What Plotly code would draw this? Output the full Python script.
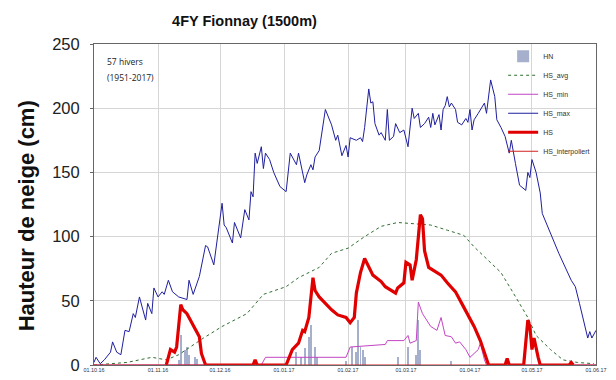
import pandas as pd
import plotly.graph_objects as go

START = "2016-10-01"

# HS_max (days since 01.10.16, cm)
max_days = [0, 1, 3, 5, 8, 9, 11, 13, 15, 17, 19, 20, 22, 25, 26, 28, 29, 31, 33, 34, 36, 38, 41, 45, 46, 48, 51,
            54, 55, 58, 62, 63, 64, 67, 68, 71, 73, 75, 76, 77, 78, 79, 81, 82, 83, 85, 87, 90, 93, 95, 98, 99,
            102, 103, 105, 106, 107, 109, 112, 115, 117, 118, 120, 122, 123, 124, 127, 129, 130, 131, 133, 134,
            135, 136, 138, 139, 141, 142, 143, 145, 146, 148, 150, 152, 154, 155, 157, 158, 160, 162, 163, 164,
            165, 167, 168, 169, 170, 171, 172, 173, 175, 176, 178, 180, 181, 182, 183, 184, 186, 187, 189, 190,
            192, 194, 195, 197, 199, 201, 202, 204, 206, 209, 210, 211, 212, 214, 216, 217, 221, 225, 231, 233,
            235, 239, 240, 241, 243]
max_vals = [2, 6, 1, 4, 10, 18, 10, 8, 27, 26, 40, 37, 53, 35, 48, 40, 60, 53, 57, 55, 66, 57, 53, 51, 66, 55, 69,
            93, 92, 78, 126, 109, 107, 95, 111, 99, 121, 113, 135, 131, 165, 157, 170, 153, 165, 160, 150, 139, 135,
            165, 156, 165, 142, 148, 156, 152, 162, 167, 199, 187, 175, 179, 163, 171, 162, 177, 175, 177, 174,
            185, 215, 204, 205, 188, 179, 181, 175, 199, 175, 178, 188, 181, 183, 170, 200, 192, 196, 185, 188,
            193, 185, 196, 187, 195, 183, 199, 202, 209, 201, 204, 199, 189, 187, 192, 189, 199, 183, 191, 196,
            199, 204, 196, 222, 209, 191, 185, 178, 165, 175, 157, 140, 136, 150, 146, 160, 150, 134, 118, 103,
            87, 66, 61, 48, 21, 26, 21, 27]

# HS_avg
avg_days = [0, 16, 28, 35, 41, 53, 62, 74, 82, 93, 99, 109, 115, 123, 131, 139, 147, 155, 163, 171, 179, 184, 190,
            197, 203, 210, 214, 221, 227, 234, 242]
avg_vals = [0, 2, 6, 4, 8, 21, 30, 40, 55, 61, 68, 76, 87, 91, 100, 108, 111, 110, 109, 105, 101, 92, 83,
            72, 56, 37, 23, 12, 4, 2, 1]

# HS_min
min_days = [0, 81, 83, 122, 124, 141, 142, 150, 152, 153, 156, 157, 159, 163, 166, 168, 170, 173, 175, 177, 180,
            182, 186, 187, 189, 190, 243]
min_vals = [0, 0, 6, 6, 14, 16, 19, 19, 23, 17, 19, 49, 40, 30, 27, 37, 23, 22, 17, 18, 12, 6, 12, 17, 4, 0, 0]

# HS (season 2016/17)
hs_days = [35, 37, 39, 40, 42, 43, 45, 46, 49, 50, 51, 52, 54, 77, 78, 79, 93, 96, 99, 101, 102, 104, 106, 107,
           109, 112, 115, 118, 122, 124, 126, 127, 129, 131, 133, 135, 139, 141, 146, 147, 150, 151, 153, 154,
           156, 158, 159, 160, 162, 164, 168, 171, 175, 178, 181, 184, 187, 189, 191, 199, 200, 201, 208, 210,
           211, 212, 213, 215, 216, 230, 231, 232]
hs_vals = [0, 12, 10, 14, 47, 43, 40, 37, 29, 26, 22, 9, 0, 0, 4, 0, 0, 12, 17, 27, 26, 37, 68, 58,
           53, 48, 43, 39, 37, 33, 37, 56, 72, 83, 76, 70, 65, 61, 56, 60, 64, 80, 78, 66,
           82, 117, 114, 89, 76, 74, 70, 64, 57, 48, 39, 30, 19, 9, 0, 0, 5, 0, 0, 35,
           30, 12, 21, 6, 0, 0, 2, 0]

# HS_interpoliert
int_days = [0, 243]
int_vals = [0, 0]

# HN (new snow)
hn_days = [41, 42, 44, 45, 46, 49, 50, 98, 100, 102, 104, 105, 107, 108, 122, 125, 127, 128, 129, 130, 131,
           147, 152, 156, 157, 158, 173]
hn_vals = [4, 23, 12, 14, 8, 6, 5, 10, 6, 13, 22, 31, 14, 6, 3, 14, 10, 35, 14, 12, 6,
           6, 14, 8, 35, 12, 3]


def to_dates(days):
    return pd.Timestamp(START) + pd.to_timedelta(days, unit="D")


fig = go.Figure()
fig.add_trace(go.Bar(x=to_dates(hn_days), y=hn_vals, name="HN", marker_color="#a6b0cc",
                     marker_line_width=0, width=0.45 * 86400000))
fig.add_trace(go.Scatter(x=to_dates(avg_days), y=avg_vals, name="HS_avg", mode="lines",
                         line=dict(color="#2f6e2f", width=1, dash="dot")))
fig.add_trace(go.Scatter(x=to_dates(min_days), y=min_vals, name="HS_min", mode="lines",
                         line=dict(color="#c445c4", width=1)))
fig.add_trace(go.Scatter(x=to_dates(max_days), y=max_vals, name="HS_max", mode="lines",
                         line=dict(color="#1f1f9e", width=1)))
fig.add_trace(go.Scatter(x=to_dates(hs_days), y=hs_vals, name="HS", mode="lines",
                         line=dict(color="#e00000", width=3.2)))
fig.add_trace(go.Scatter(x=to_dates(int_days), y=int_vals, name="HS_interpoliert", mode="lines",
                         line=dict(color="#d42020", width=1)))

# the page body adds an 8px offset; the figure is sized so that the plot box sits at x 94-~597, y 44-365
fig.update_layout(
    width=608, height=372,
    margin=dict(l=86, r=20, t=36, b=15, autoexpand=False),
    paper_bgcolor="white", plot_bgcolor="white",
    font=dict(family="Liberation Sans, Arial, sans-serif", color="#222"),
    title=dict(text="<b>4FY Fionnay (1500m)</b>", x=0.389, xref="container", xanchor="center",
               y=0.965, yref="container", yanchor="middle", font=dict(size=14.5, color="#111")),
    showlegend=True,
    legend=dict(x=0.815, y=1.007, xanchor="left", yanchor="top", bgcolor="rgba(0,0,0,0)",
                font=dict(size=7, color="#333"), tracegroupgap=0, itemwidth=30),
    bargap=0,
    annotations=[
        dict(text="<b>Hauteur de neige (cm)</b>", textangle=-90, x=-0.135, y=0.464, xref="paper",
             yref="paper", xanchor="center", yanchor="middle", showarrow=False,
             font=dict(size=22, color="#111")),
        dict(text="57 hivers", x=0.022, y=0.947, xref="paper", yref="paper", xanchor="left",
             yanchor="middle", showarrow=False, font=dict(size=8.5, family="Open Sans", color="#222")),
        dict(text="(1951-2017)", x=0.022, y=0.897, xref="paper", yref="paper", xanchor="left",
             yanchor="middle", showarrow=False, font=dict(size=8.5, family="Open Sans", color="#222")),
    ],
)
fig.update_xaxes(
    type="date", range=[START, "2017-06-01"], tick0=START, dtick="M1", tickformat="%d.%m.%y",
    tickfont=dict(size=5.4, color="#333"), showgrid=True, gridcolor="#d6d6d6", gridwidth=1,
    showline=True, linecolor="#666", linewidth=1, mirror=True, ticks="", zeroline=False,
    automargin=False, ticklabeloverflow="allow",
)
fig.update_yaxes(
    range=[0, 250], dtick=50, tickfont=dict(size=16.5, color="#222"), showgrid=True,
    gridcolor="#d6d6d6", gridwidth=1, showline=True, linecolor="#666", linewidth=1, mirror=True,
    ticks="outside", ticklen=3, tickcolor="#666", ticklabelstandoff=7, zeroline=False,
    automargin=False,
)

fig.write_html("out.html")
